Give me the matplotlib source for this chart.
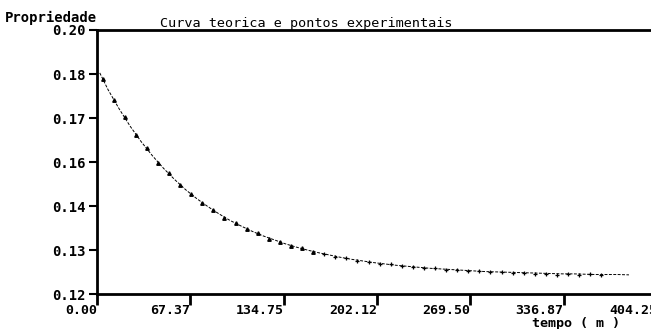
import matplotlib
matplotlib.use("Agg")
import matplotlib.pyplot as plt

# values
t_teo = [2, 8, 16, 24, 32, 40, 48, 56, 64, 72, 80, 88, 96, 104, 112, 120, 128,
         136, 144, 152, 160, 168, 176, 184, 192, 200, 208, 216, 224, 232, 240,
         248, 256, 264, 272, 280, 288, 296, 304, 312, 320, 328, 336, 344, 352,
         360, 368, 376, 384]
y_teo = [0.1870, 0.1819, 0.1761, 0.1708, 0.1661, 0.1619, 0.1581, 0.1547,
         0.1516, 0.1489, 0.1465, 0.1443, 0.1423, 0.1406, 0.1390, 0.1376,
         0.1364, 0.1352, 0.1342, 0.1333, 0.1325, 0.1318, 0.1311, 0.1305,
         0.1300, 0.1295, 0.1291, 0.1287, 0.1284, 0.1281, 0.1278, 0.1276,
         0.1274, 0.1272, 0.1270, 0.1268, 0.1267, 0.1266, 0.1265, 0.1264,
         0.1263, 0.1262, 0.1261, 0.1261, 0.1260, 0.1259, 0.1259, 0.1259, 0.1258]

# experimental points: triangles on the steep part, crosses on the tail
t_tri = [4, 12, 20, 28, 36, 44, 52, 60, 68, 76, 84, 92, 100, 108, 116, 124,
         132, 140, 148, 156]
y_tri = [0.1853, 0.1787, 0.1736, 0.1683, 0.1642, 0.1598, 0.1566, 0.1529,
         0.1504, 0.1475, 0.1456, 0.1431, 0.1416, 0.1396, 0.1384, 0.1368,
         0.1359, 0.1345, 0.1339, 0.1328]
t_plus = [164, 172, 180, 188, 196, 204, 212, 220, 228, 236, 244, 252, 260,
          268, 276, 284, 292, 300, 308, 316, 324, 332, 340, 348, 356, 364]
y_plus = [0.1322, 0.1313, 0.1309, 0.1301, 0.1298, 0.1292, 0.1290, 0.1284,
          0.1283, 0.1278, 0.1278, 0.1273, 0.1274, 0.1270, 0.1269, 0.1266,
          0.1267, 0.1263, 0.1264, 0.1260, 0.1262, 0.1259, 0.1261, 0.1257,
          0.1260, 0.1258]

x_ticks = [0.00, 67.37, 134.75, 202.12, 269.50, 336.87, 404.25]
x_labels = ["0.00", "67.37", "134.75", "202.12", "269.50", "336.87", "404.25"]
y_ticks = [0.12, 0.12 + 0.08 / 6, 0.12 + 0.16 / 6, 0.16, 0.12 + 0.32 / 6,
           0.12 + 0.40 / 6, 0.20]
y_labels = ["0.12", "0.13", "0.14", "0.16", "0.17", "0.18", "0.20"]

mono = "DejaVu Sans Mono"

fig = plt.figure(figsize=(6.51, 3.29), dpi=100)
ax = fig.add_axes([97 / 651, 35 / 329, (657 - 97) / 651, 264 / 329])

ax.plot(t_teo, y_teo, color="black", lw=0.7, ls=(0, (3, 1.5)))
ax.plot(t_tri, y_tri, ls="none", marker="^", ms=2.5, color="black")
ax.plot(t_plus, y_plus, ls="none", marker="+", ms=3.5, mew=0.9, color="black")

ax.set_xlim(0, 404.25)
ax.set_ylim(0.12, 0.20)

ax.set_xticks(x_ticks)
ax.set_xticklabels(x_labels, ha="right", fontfamily=mono, fontweight="bold",
                   fontsize=9.5)
ax.set_yticks(y_ticks)
ax.set_yticklabels(y_labels, fontfamily=mono, fontweight="bold", fontsize=10)
for lab in ax.get_yticklabels():
    lab.set_verticalalignment("center_baseline")

ax.tick_params(axis="x", direction="out", length=8, width=2, pad=-1)
ax.tick_params(axis="y", direction="out", length=6, width=1.5, pad=2)

for side in ["left", "bottom", "top"]:
    ax.spines[side].set_linewidth(2)
ax.spines["right"].set_visible(False)

fig.text(5 / 651, 1 - 22 / 329, "Propriedade", fontfamily=mono,
         fontweight="bold", fontsize=10, va="baseline")
fig.text(160 / 651, 1 - 27 / 329, "Curva teorica e pontos experimentais",
         fontfamily=mono, fontsize=9.7, va="baseline")
fig.text(576 / 651, 1 - 317 / 329, "tempo ( m )", fontfamily=mono,
         fontweight="bold", fontsize=9.6, ha="center", va="top")

fig.savefig("out.png", dpi=100)
